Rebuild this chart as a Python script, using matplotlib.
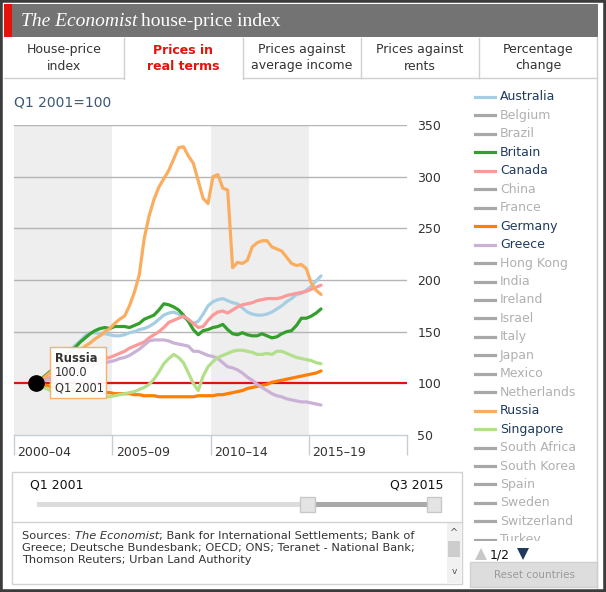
import matplotlib
matplotlib.use("Agg")
import matplotlib.pyplot as plt
from matplotlib.patches import Rectangle, Polygon
from matplotlib.lines import Line2D
import matplotlib.transforms as mtransforms

# ---------------- data ----------------
quarters_start = 2001.125  # Q1 2001 (mid-quarter position)
n_quarters = 59            # Q1 2001 .. Q3 2015

australia = [100,103,107,112,117,122,127,132,137,141,
             146,149,149,148,148,147,146,146,147,149,
             150,152,153,155,158,162,166,168,169,167,
             164,161,158,160,167,175,179,181,182,180,
             178,177,173,169,167,166,166,167,169,172,
             175,179,182,186,187,190,194,199,204]
britain = [100,104,108,112,116,121,126,131,135,140,
           144,148,151,153,154,153,155,155,155,154,
           156,158,162,164,166,171,177,176,174,171,
           166,160,152,147,151,152,154,155,157,152,
           148,147,149,147,146,146,148,146,144,145,
           148,150,151,156,163,163,165,168,172]
canada = [100,102,104,106,107,109,111,113,115,117,
          118,120,122,124,124,125,127,129,131,134,
          136,138,140,144,147,150,154,159,161,163,
          165,162,158,154,155,161,166,169,170,168,
          171,174,176,177,178,180,181,182,182,182,
          183,185,186,187,188,189,191,193,195]
germany = [100,99,98,97,96,95,95,94,93,93,
           92,92,91,91,91,91,90,90,90,90,
           89,89,88,88,88,87,87,87,87,87,
           87,87,87,88,88,88,88,89,89,90,
           91,92,93,95,96,97,98,99,101,102,
           103,104,105,106,107,108,109,110,112]
greece = [100,101,103,104,106,107,109,110,112,113,
          115,116,118,119,120,121,122,124,125,127,
          130,133,137,141,142,142,142,141,139,138,
          137,136,131,131,129,127,126,124,120,116,
          115,113,110,106,103,99,96,93,90,88,
          87,85,84,83,82,82,81,80,79]
russia = [100,103,107,111,115,118,122,126,130,132,
          136,139,143,146,150,153,158,162,165,175,
          188,205,240,262,278,290,298,306,317,328,
          329,320,313,296,279,274,300,302,289,287,
          212,217,216,219,232,236,238,238,232,230,
          228,222,216,214,215,211,197,190,186]
singapore = [100,97,95,93,92,91,90,89,89,88,
             88,88,87,87,87,87,88,89,90,91,
             92,94,96,99,104,111,119,124,128,125,
             120,110,100,93,107,116,121,125,127,129,
             131,132,132,131,130,128,128,129,128,131,
             131,129,127,125,124,123,122,120,119]

series_names = ["Australia", "Britain", "Canada", "Germany", "Greece", "Russia", "Singapore"]
series_values = [australia, britain, canada, germany, greece, russia, singapore]
series_colors = ["#a6cee3", "#33a02c", "#fb9a99", "#ff7f00", "#cab2d6", "#fbad5f", "#b2df8a"]

legend_countries = ["Australia", "Belgium", "Brazil", "Britain", "Canada", "China", "France",
                    "Germany", "Greece", "Hong Kong", "India", "Ireland", "Israel", "Italy",
                    "Japan", "Mexico", "Netherlands", "Russia", "Singapore", "South Africa",
                    "South Korea", "Spain", "Sweden", "Switzerland", "Turkey"]

y_ticks = [50, 100, 150, 200, 250, 300, 350]
period_edges = [2000, 2005, 2010, 2015, 2020]
period_labels = ["2000\u201304", "2005\u201309", "2010\u201314", "2015\u201319"]
tab_labels = ["House-price\nindex", "Prices in\nreal terms", "Prices against\naverage income",
              "Prices against\nrents", "Percentage\nchange"]

quarters = [quarters_start + 0.25 * i for i in range(n_quarters)]

# ---------------- figure helpers (pixel coordinates) ----------------
W, H = 606, 592
fig = plt.figure(figsize=(W / 100, H / 100), dpi=100)
fig.patch.set_facecolor("white")
FONT = "DejaVu Sans"
plt.rcParams["font.family"] = FONT


def fx(x):
    return x / W


def fy(y):
    return 1 - y / H


def rect(x0, y0, x1, y1, **kw):
    r = Rectangle((fx(x0), fy(y1)), (x1 - x0) / W, (y1 - y0) / H,
                  transform=fig.transFigure, **kw)
    fig.add_artist(r)
    return r


def hline(x0, x1, y, **kw):
    fig.add_artist(Line2D([fx(x0), fx(x1)], [fy(y), fy(y)], transform=fig.transFigure, **kw))


def vline(x, y0, y1, **kw):
    fig.add_artist(Line2D([fx(x), fx(x)], [fy(y0), fy(y1)], transform=fig.transFigure, **kw))


def text(x, y, s, **kw):
    return fig.text(fx(x), fy(y), s, **kw)


renderer = fig.canvas.get_renderer()

# ---------------- outer frame ----------------
rect(0, 0, W, H, facecolor="none", edgecolor="#3c3c3c", lw=4, zorder=20)
vline(597, 37, 588, color="#cfcfcf", lw=1)

# ---------------- header ----------------
rect(4, 4, 598, 37, facecolor="#737373", edgecolor="none")
rect(4, 4, 12, 37, facecolor="#e3120b", edgecolor="none")
t1 = text(21, 21, "The Economist", fontsize=14, family="Liberation Serif", style="italic",
          color="white", va="center", ha="left")
bb = t1.get_window_extent(renderer)
fig.text((bb.x1 + 4) / fig.bbox.width, fy(21), "house-price index", fontsize=14,
         family="Liberation Serif", color="white", va="center", ha="left")

# ---------------- tabs ----------------
tab_edges = [4, 124, 243, 361, 479, 597]
selected = 1
for i, lab in enumerate(tab_labels):
    x0, x1 = tab_edges[i], tab_edges[i + 1]
    if i != selected:
        hline(x0, x1, 78, color="#d0d0d0", lw=1)
    if i > 0:
        vline(x0, 38, 79 if (i == selected or i == selected + 1) else 78, color="#d0d0d0", lw=1)
    if i == selected:
        text((x0 + x1) / 2, 58, lab, fontsize=9, color="#e3120b", weight="bold",
             ha="center", va="center", linespacing=1.3)
    else:
        text((x0 + x1) / 2, 58, lab, fontsize=9, color="#333333",
             ha="center", va="center", linespacing=1.3)

# ---------------- chart ----------------
text(14, 103, "Q1 2001=100", fontsize=10, color="#3d5873", ha="left", va="center")

ax = fig.add_axes([fx(14), fy(435), (407 - 14) / W, (435 - 125) / H])
ax.set_xlim(period_edges[0], period_edges[-1])
ax.set_ylim(y_ticks[0], y_ticks[-1])
ax.patch.set_alpha(0)
for s in ["top", "left", "right"]:
    ax.spines[s].set_visible(False)
ax.spines["bottom"].set_color("#c6cdd6")
ax.spines["bottom"].set_linewidth(1)

for k in range(0, len(period_edges) - 1, 2):
    ax.axvspan(period_edges[k], period_edges[k + 1], color="#eeeeee", lw=0, zorder=0)

for v in y_ticks[2:]:
    ax.axhline(v, color="#b5b5b5", lw=1, zorder=1)
ax.axhline(100, color="#e3120b", lw=1.6, zorder=2)

ax.yaxis.tick_right()
ax.set_yticks(y_ticks)
ax.set_yticklabels([str(v) for v in y_ticks])
ax.tick_params(axis="y", length=0, pad=7.5, labelsize=9, labelcolor="#333333")

ax.set_xticks(period_edges)
ax.set_xticklabels([""] * len(period_edges))
ax.tick_params(axis="x", length=14.5, width=1, color="#c6cdd6", direction="out")
trans = mtransforms.blended_transform_factory(ax.transData, ax.transAxes)
for k, lab in enumerate(period_labels):
    ax.text(period_edges[k] + 0.18, -17.5 / 310, lab, transform=trans, fontsize=9,
            color="#333333", ha="left", va="center")

for name, vals, col in zip(series_names, series_values, series_colors):
    ax.plot(quarters, vals, color=col, lw=2.3, zorder=3, solid_joinstyle="round",
            solid_capstyle="round")

ax.plot([quarters[0]], [russia[0]], "o", color="black", ms=11, zorder=6, clip_on=False)

# tooltip
rect(50, 347, 106, 398, facecolor="white", edgecolor="#fbad5f", lw=1, alpha=0.95, zorder=30)
text(55, 358, "Russia", fontsize=8.3, weight="bold", color="#333333", ha="left", va="center", zorder=31)
text(55, 373, "%.1f" % russia[0], fontsize=8.3, color="#333333", ha="left", va="center", zorder=31)
text(55, 388, "Q1 2001", fontsize=8.3, color="#333333", ha="left", va="center", zorder=31)

# ---------------- legend panel ----------------
legend_clip = Rectangle((fx(465), fy(540.5)), (600 - 465) / W, (540.5 - 85) / H, transform=fig.transFigure)
active = dict(zip(series_names, series_colors))
for k, c in enumerate(legend_countries):
    y = 97 + k * 18.45
    if c in active:
        lc, tc = active[c], "#1f3a5f"
    else:
        lc, tc = "#a8a8a8", "#b0b0b0"
    ln = Line2D([fx(475), fx(495)], [fy(y), fy(y)], transform=fig.transFigure, color=lc, lw=2.3)
    fig.add_artist(ln)
    ln.set_clip_path(legend_clip)
    t = text(500, y, c, fontsize=9, color=tc, ha="left", va="center")
    t.set_clip_path(legend_clip)

# pagination
fig.add_artist(Polygon([[fx(475), fy(560)], [fx(487), fy(560)], [fx(481), fy(548)]],
                       closed=True, transform=fig.transFigure, facecolor="#c8c8c8", edgecolor="none"))
text(490, 555, "1/2", fontsize=9, color="#111111", ha="left", va="center")
fig.add_artist(Polygon([[fx(517), fy(548)], [fx(529), fy(548)], [fx(523), fy(560)]],
                       closed=True, transform=fig.transFigure, facecolor="#1f3a5f", edgecolor="none"))
rect(470, 562, 597, 587, facecolor="#dddddd", edgecolor="#cfcfcf", lw=1)
text(535, 575, "Reset countries", fontsize=7.5, color="#9a9a9a", ha="center", va="center")

# ---------------- slider ----------------
rect(12, 472, 462, 584, facecolor="white", edgecolor="#d2d2d2", lw=1)
hline(12, 462, 522, color="#d2d2d2", lw=1)
text(30, 485, "Q1 2001", fontsize=9, color="#111111", ha="left", va="center")
text(443, 485, "Q3 2015", fontsize=9, color="#111111", ha="right", va="center")
rect(37, 502, 433, 507, facecolor="#dcdcdc", edgecolor="none")
rect(308, 502, 433, 507, facecolor="#a9a9a9", edgecolor="none")
rect(300, 497, 315, 512, facecolor="#e4e4e4", edgecolor="#c8c8c8", lw=1)
rect(427, 497, 441, 512, facecolor="#e4e4e4", edgecolor="#c8c8c8", lw=1)

# ---------------- sources ----------------
src_fs = 8.2
p1 = text(22, 536, "Sources: ", fontsize=src_fs, color="#333333", ha="left", va="center")
e1 = p1.get_window_extent(renderer)
p2 = fig.text(e1.x1 / fig.bbox.width, fy(536), "The Economist", fontsize=src_fs, style="italic",
              color="#333333", ha="left", va="center")
e2 = p2.get_window_extent(renderer)
fig.text(e2.x1 / fig.bbox.width, fy(536), "; Bank for International Settlements; Bank of",
         fontsize=src_fs, color="#333333", ha="left", va="center")
text(22, 548, "Greece; Deutsche Bundesbank; OECD; ONS; Teranet - National Bank;",
     fontsize=src_fs, color="#333333", ha="left", va="center")
text(22, 560, "Thomson Reuters; Urban Land Authority",
     fontsize=src_fs, color="#333333", ha="left", va="center")

# scrollbar
rect(447, 523, 461, 583, facecolor="#f1f1f1", edgecolor="none")
rect(448, 541, 460, 557, facecolor="#cdcdcd", edgecolor="none")
text(454, 533, "^", fontsize=7, color="#555555", ha="center", va="center")
text(454, 571, "v", fontsize=6.5, color="#555555", ha="center", va="center")

fig.savefig("out.png", dpi=100)
